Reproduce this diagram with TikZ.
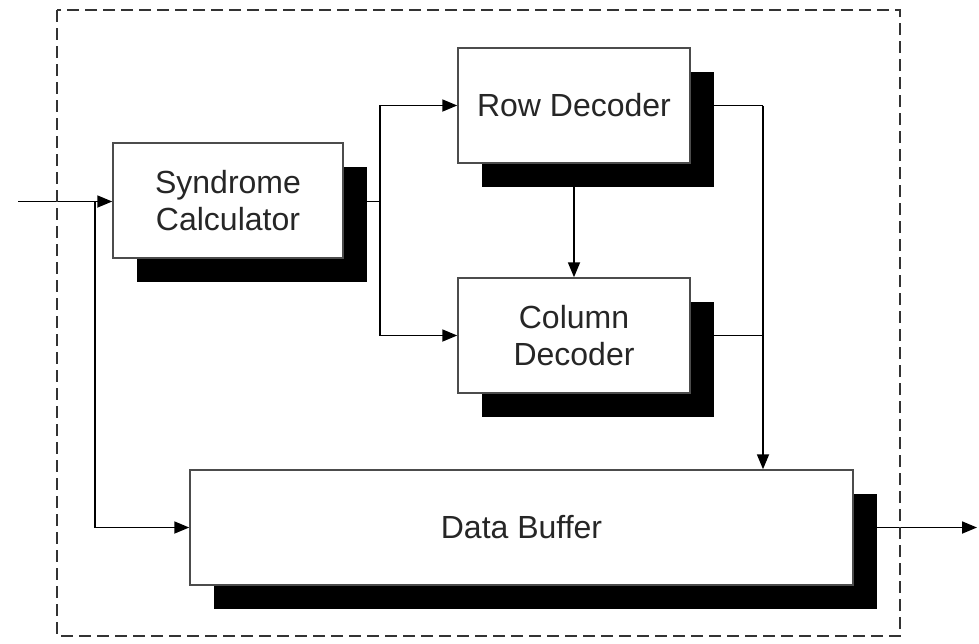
\documentclass[tikz,border=0pt]{standalone}
\usepackage{fontspec}
\setmainfont{Liberation Sans}
\usetikzlibrary{shadows,arrows.meta,backgrounds,calc}
\tikzset{
  blk/.style={draw=black!70, line width=1.5pt, fill=white, minimum height=115pt,
    font=\fontsize{32}{37}\selectfont, text=black!85, align=center, inner sep=0pt,
    general shadow={fill=black, shadow xshift=24pt, shadow yshift=-24pt}},
  conn/.style={draw=black, line width=1.8pt},
  arr/.style={conn, -{Triangle[length=15pt,width=12pt]}},
  frame/.style={draw=black!80, line width=1.6pt, dash pattern=on 12pt off 6pt}
}
\begin{document}
\begin{tikzpicture}[x=1pt,y=-1pt]
\useasboundingbox (0,0) rectangle (979,643);
\draw[frame] (57,10) rectangle (900,636);
\node[blk, minimum width=230pt] (syn) at (228,200.5) {Syndrome\\Calculator};
\node[blk, minimum width=232pt] (row) at (574,105.5) {Row Decoder};
\node[blk, minimum width=232pt] (col) at (574,335.5) {Column\\Decoder};
\node[blk, minimum width=663pt] (buf) at (521.5,527.5) {Data Buffer};
\coordinate (in) at (18,201.5);
\coordinate (j1) at (95,201.5);
\coordinate (b1) at (380,201.5);
\coordinate (b2) at (763,105.5);
\coordinate (out) at (977,527.5);
\begin{scope}[on background layer]
  \draw[arr] (in) -- (in -| syn.west);
  \draw[arr] (j1) |- (buf.west);
  \draw[conn] (b1 -| syn.east) -- (b1);
  \draw[arr] (b1) |- (row.west);
  \draw[arr] (b1) |- (col.west);
  \draw[arr] (row.south) -- (col.north);
  \draw[conn] (row.east) -- (b2);
  \draw[arr] (b2) -- (b2 |- buf.north);
  \draw[conn] (col.east) -- (b2 |- col.east);
  \draw[arr] (buf.east) -- (out);
\end{scope}
\end{tikzpicture}
\end{document}
